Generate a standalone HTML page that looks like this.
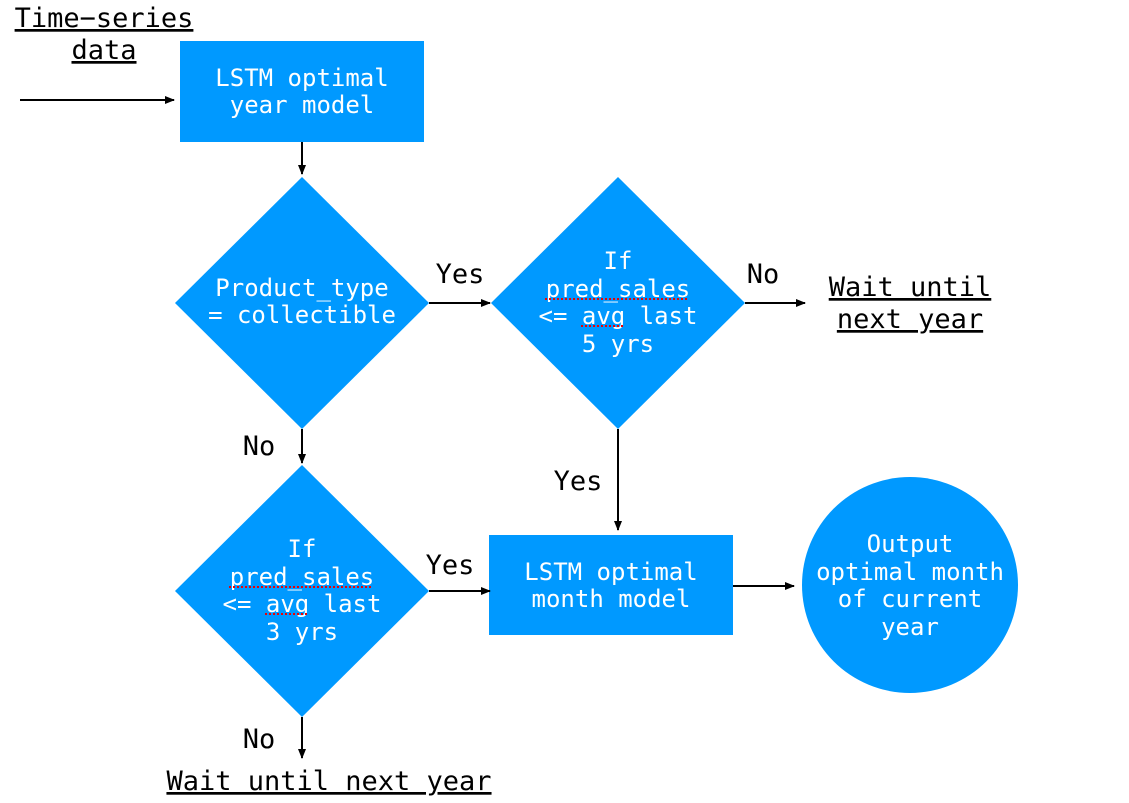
<!DOCTYPE html>
<html><head><style>body{margin:0;background:#fff}</style></head><body>
<svg width="1129" height="798" xmlns="http://www.w3.org/2000/svg" style="font-family:'DejaVu Sans Mono','Liberation Mono',monospace">
<defs><marker id="a" markerWidth="10" markerHeight="8" refX="9" refY="4" orient="auto" markerUnits="userSpaceOnUse"><path d="M0,0L10,4L0,8z" fill="#000"/></marker></defs>
<g fill="#0099ff">
<rect x="180" y="41" width="244" height="101"/>
<polygon points="302,177 429,303 302,429 175,303"/>
<polygon points="618,177 745,303 618,429 491,303"/>
<polygon points="302,465 429,591 302,717 175,591"/>
<rect x="489" y="535" width="244" height="100"/>
<circle cx="910" cy="585" r="108"/>
</g>
<g stroke="#000" stroke-width="2" marker-end="url(#a)">
<line x1="20" y1="100" x2="174" y2="100"/>
<line x1="302" y1="142" x2="302" y2="174"/>
<line x1="429" y1="303" x2="490" y2="303"/>
<line x1="745" y1="303" x2="805" y2="303"/>
<line x1="302" y1="429" x2="302" y2="463"/>
<line x1="618" y1="429" x2="618" y2="530"/>
<line x1="429" y1="591" x2="490" y2="591"/>
<line x1="733" y1="586" x2="794" y2="586"/>
<line x1="302" y1="717" x2="302" y2="758"/>
</g>
<g fill="#fff" font-size="24" text-anchor="middle">
<text x="302" y="86">LSTM optimal</text><text x="302" y="113">year model</text>
<text x="302" y="296">Product_type</text><text x="302" y="323">= collectible</text>
<text x="618" y="269">If</text><text x="618" y="297">pred_sales</text><text x="618" y="324">&lt;= avg last</text><text x="618" y="352">5 yrs</text>
<text x="302" y="557">If</text><text x="302" y="585">pred_sales</text><text x="302" y="612">&lt;= avg last</text><text x="302" y="640">3 yrs</text>
<text x="611" y="580">LSTM optimal</text><text x="611" y="607">month model</text>
<text x="910" y="552">Output</text><text x="910" y="580">optimal month</text><text x="910" y="607">of current</text><text x="910" y="635">year</text>
</g>
<g stroke="#e00" stroke-width="2" stroke-dasharray="2,2">
<line x1="545" y1="299" x2="689" y2="299"/><line x1="581" y1="326" x2="623" y2="326"/>
<line x1="229" y1="587" x2="373" y2="587"/><line x1="265" y1="614" x2="307" y2="614"/>
</g>
<g fill="#000" font-size="27" text-anchor="middle">
<text x="104" y="27" text-decoration="underline">Time−series</text>
<text x="104" y="59" text-decoration="underline">data</text>
<text x="460" y="283">Yes</text>
<text x="763" y="283">No</text>
<text x="910" y="296" text-decoration="underline">Wait until</text>
<text x="910" y="328" text-decoration="underline">next year</text>
<text x="259" y="455">No</text>
<text x="578" y="490">Yes</text>
<text x="450" y="574">Yes</text>
<text x="259" y="748">No</text>
<text x="329" y="790" text-decoration="underline">Wait until next year</text>
</g>
</svg>
</body></html>
